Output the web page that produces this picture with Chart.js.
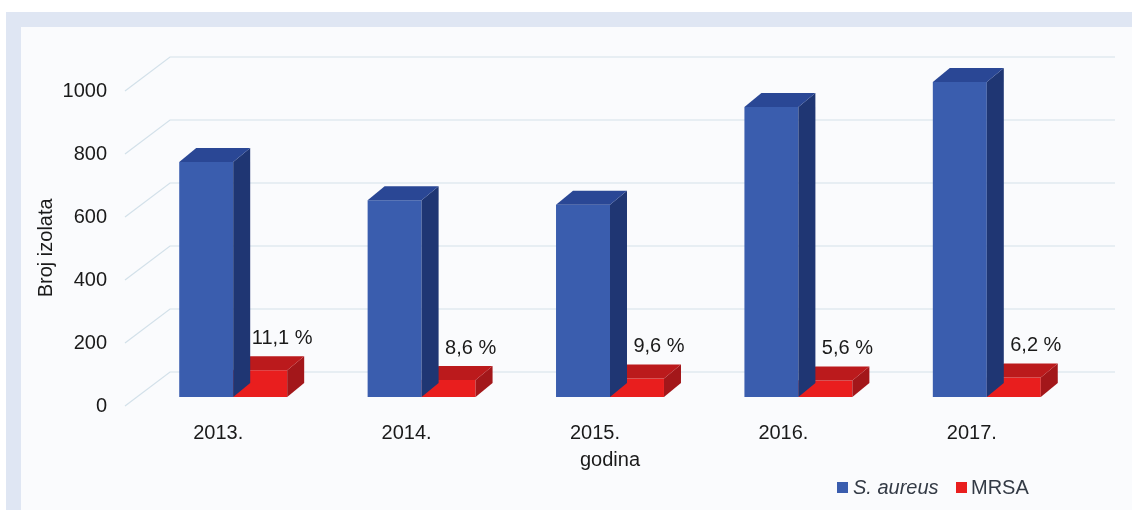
<!DOCTYPE html>
<html>
<head>
<meta charset="utf-8">
<script src="https://cdn.jsdelivr.net/npm/chart.js@4.4.0/dist/chart.umd.min.js"></script>
<style>
  html, body { margin: 0; padding: 0; background: #fff; }
  #wrap { width: 1132px; height: 510px; }
</style>
</head>
<body>
<div id="wrap"><canvas id="chart" width="1132" height="510"></canvas></div>
<script>
const years = ["2013.", "2014.", "2015.", "2016.", "2017."];
const aureus = [746, 625, 610, 921, 1000];
const mrsa = [85, 54, 59, 52, 62];
const mrsaPct = ["11,1 %", "8,6 %", "9,6 %", "5,6 %", "6,2 %"];
const yTicks = [0, 200, 400, 600, 800, 1000];

const FONT = '"Liberation Sans", Arial, sans-serif';
const DX = 17, DY = 14;          // bar depth
const GRID_FRONT = 9, GRID_BACK = -25; // wall offsets from the bar plane

// shades for the 3d faces: [front, top, side]
const shades = [
  ["#3a5dae", "#2a4795", "#1f3673"],
  ["#e91e1e", "#bb1a1c", "#a3171a"],
];

const frame = {
  id: "frame",
  beforeDraw(chart) {
    const ctx = chart.ctx;
    ctx.save();
    ctx.fillStyle = "#ffffff";
    ctx.fillRect(0, 0, chart.width, chart.height);
    ctx.fillStyle = "#dfe6f3";
    ctx.fillRect(6, 12, chart.width - 6, chart.height - 12);
    ctx.fillStyle = "#fafbfd";
    ctx.fillRect(21, 27, chart.width - 21, chart.height - 27);
    ctx.restore();
  },
};

const walls = {
  id: "walls",
  beforeDatasetsDraw(chart) {
    const ctx = chart.ctx, y = chart.scales.y;
    ctx.save();
    ctx.strokeStyle = "#d3e1ea";
    ctx.lineWidth = 1.2;
    yTicks.forEach(v => {
      const py = y.getPixelForValue(v);
      ctx.beginPath();
      ctx.moveTo(125, py + GRID_FRONT);
      ctx.lineTo(170, py + GRID_BACK);
      ctx.lineTo(1115, py + GRID_BACK);
      ctx.stroke();
    });
    ctx.restore();
  },
};

const bars3d = {
  id: "bars3d",
  afterDatasetDraw(chart, args) {
    const ctx = chart.ctx;
    const c = shades[args.index];
    ctx.save();
    args.meta.data.forEach(bar => {
      const l = bar.x - bar.width / 2, r = bar.x + bar.width / 2;
      const top = bar.y, base = bar.base;
      ctx.fillStyle = c[2];
      ctx.beginPath();
      ctx.moveTo(r, top);
      ctx.lineTo(r + DX, top - DY);
      ctx.lineTo(r + DX, base - DY);
      ctx.lineTo(r, base);
      ctx.closePath();
      ctx.fill();
      ctx.fillStyle = c[1];
      ctx.beginPath();
      ctx.moveTo(l, top);
      ctx.lineTo(l + DX, top - DY);
      ctx.lineTo(r + DX, top - DY);
      ctx.lineTo(r, top);
      ctx.closePath();
      ctx.fill();
    });
    ctx.restore();
  },
  afterDatasetsDraw(chart) {
    const ctx = chart.ctx;
    const meta = chart.getDatasetMeta(1);
    ctx.save();
    ctx.font = "20px " + FONT;
    ctx.fillStyle = "#1a1a1a";
    ctx.textAlign = "center";
    ctx.textBaseline = "middle";
    meta.data.forEach((bar, i) => {
      ctx.fillText(mrsaPct[i], bar.x + 22, bar.y - 32);
    });
    ctx.restore();
  },
};

const legend = {
  id: "customLegend",
  afterDraw(chart) {
    const ctx = chart.ctx;
    const ds = chart.data.datasets;
    ctx.save();
    ctx.textBaseline = "middle";
    ctx.fillStyle = ds[0].backgroundColor;
    ctx.fillRect(837, 482, 11, 11);
    ctx.fillStyle = "#333a45";
    ctx.font = "italic 20px " + FONT;
    ctx.fillText(ds[0].label, 853, 488);
    ctx.fillStyle = ds[1].backgroundColor;
    ctx.fillRect(956, 482, 11, 11);
    ctx.fillStyle = "#333a45";
    ctx.font = "20px " + FONT;
    ctx.fillText(ds[1].label, 971, 488);
    ctx.restore();
  },
};

new Chart(document.getElementById("chart"), {
  type: "bar",
  data: {
    labels: years,
    datasets: [
      { label: "S. aureus", data: aureus, backgroundColor: shades[0][0] },
      { label: "MRSA", data: mrsa, backgroundColor: shades[1][0] },
    ],
  },
  options: {
    responsive: false,
    animation: false,
    layout: { padding: { left: 20, right: 51, top: 82, bottom: 0 } },
    datasets: {
      bar: { categoryPercentage: 0.573, barPercentage: 1.0, borderWidth: 0 },
    },
    plugins: { legend: { display: false }, tooltip: { enabled: false } },
    scales: {
      x: {
        grid: { display: false, drawTicks: false },
        border: { display: false },
        ticks: { color: "#1a1a1a", font: { size: 20, family: FONT }, padding: 24, labelOffset: -15 },
        title: { display: true, text: "godina", color: "#1a1a1a", font: { size: 20, family: FONT }, padding: { top: 0, bottom: 38 } },
        afterFit(s) { s.height = 113; },
      },
      y: {
        min: 0,
        max: 1000,
        grid: { display: false, drawTicks: false },
        border: { display: false },
        ticks: { color: "#1a1a1a", font: { size: 20, family: FONT }, padding: 32, labelOffset: 9, callback: v => String(v) },
        afterBuildTicks(s) { s.ticks = yTicks.map(v => ({ value: v })); },
        title: { display: true, text: "Broj izolata   ", color: "#1a1a1a", font: { size: 20, family: FONT }, padding: { top: 14, bottom: 0 } },
        afterFit(s) { s.width = 119; },
      },
    },
  },
  plugins: [frame, walls, bars3d, legend],
});
</script>
</body>
</html>
